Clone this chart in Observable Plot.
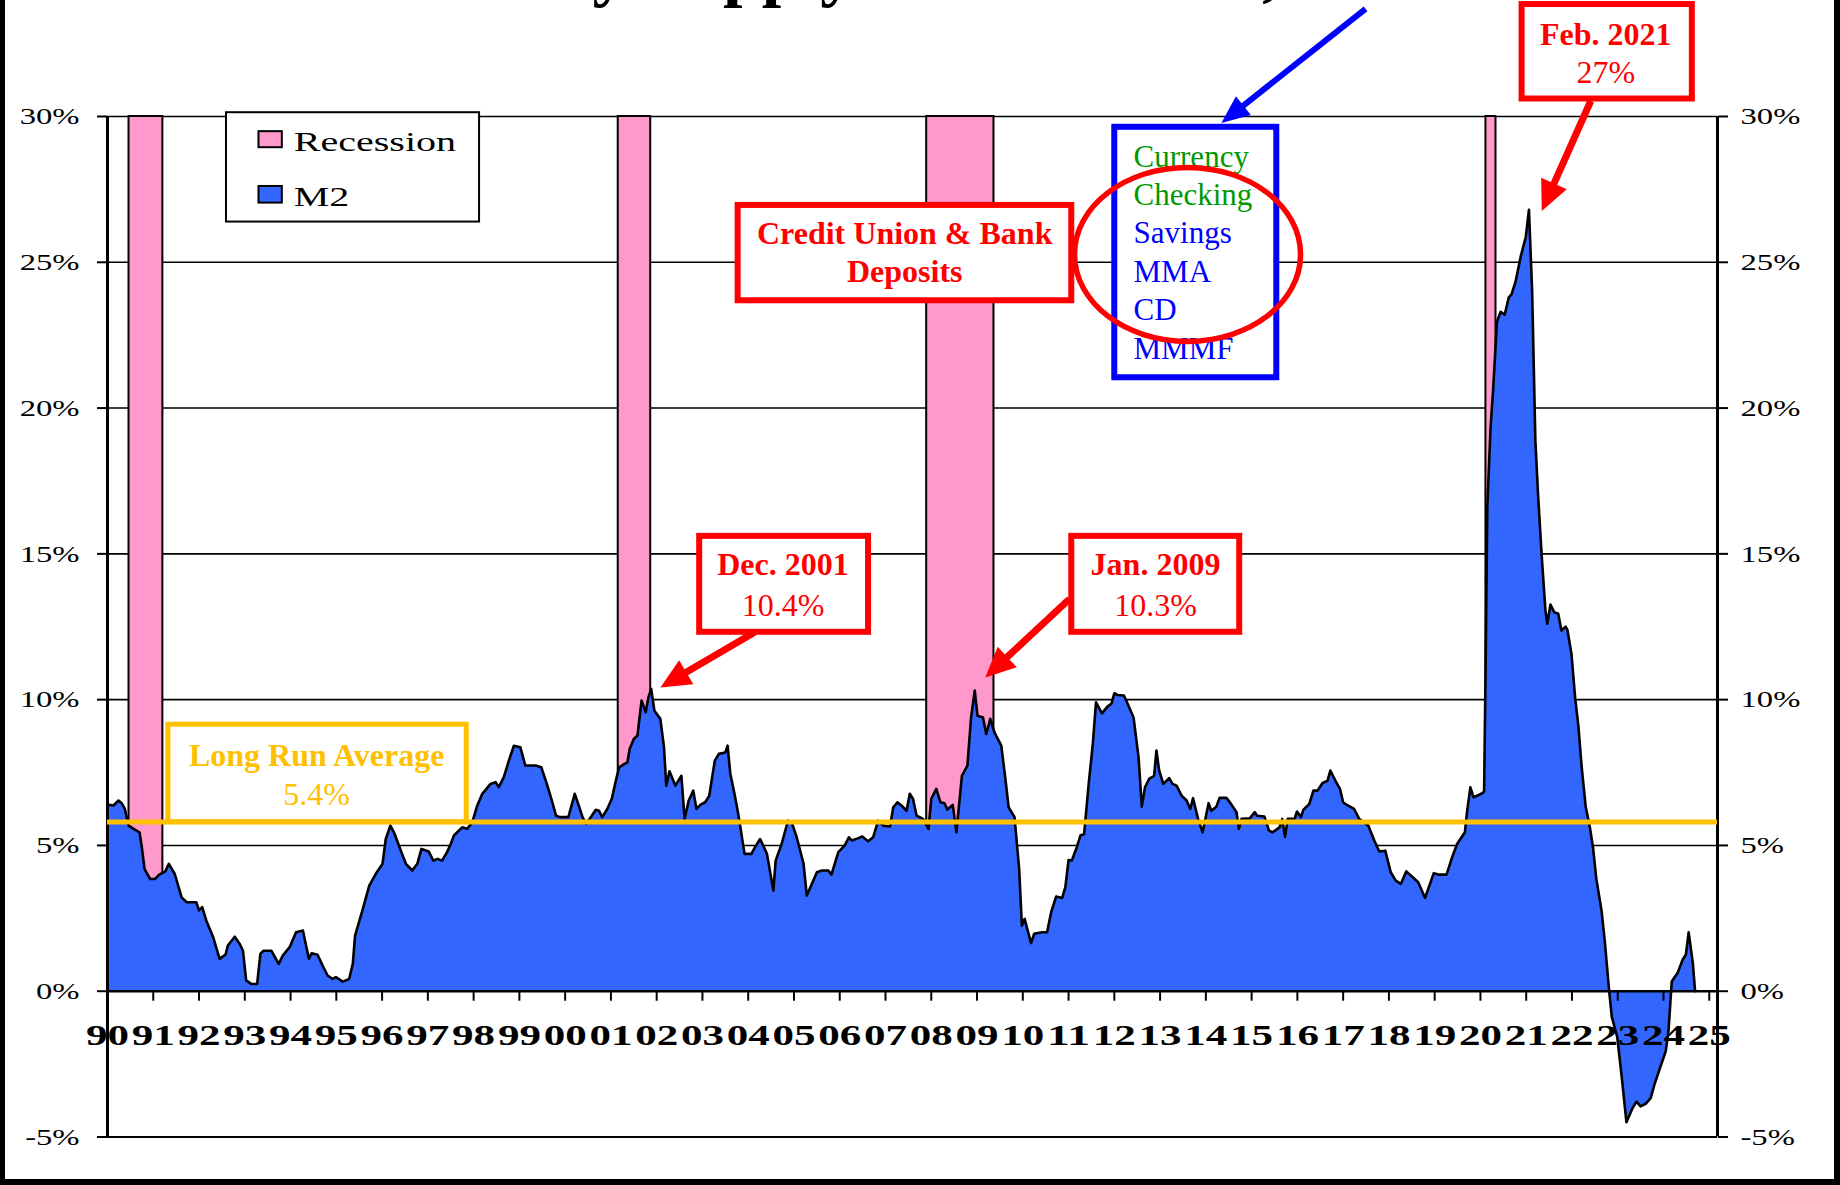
<!DOCTYPE html>
<html><head><meta charset="utf-8">
<script src="https://cdn.jsdelivr.net/npm/d3@7"></script>
<script src="https://cdn.jsdelivr.net/npm/@observablehq/plot@0.6"></script>
<style>
html,body{margin:0;padding:0;background:#fff;}
#wrap{position:relative;width:1840px;height:1185px;overflow:hidden;background:#fff;}
#wrap svg{position:absolute;left:0;top:0;}
#frame{position:absolute;left:0;top:-20px;width:1840px;height:1205px;box-sizing:border-box;border-left:5px solid #000;border-right:6px solid #000;border-bottom:6px solid #000;pointer-events:none;}
</style></head><body><div id="wrap"><div id="frame"></div></div>
<script>
// ---------------- DATA ----------------
const years = [1990.00,1990.13,1990.24,1990.31,1990.38,1990.46,1990.57,1990.70,1990.75,1990.81,1990.93,1991.04,1991.13,1991.26,1991.34,1991.47,1991.62,1991.73,1991.94,1992.00,1992.07,1992.16,1992.31,1992.45,1992.58,1992.63,1992.78,1992.89,1992.96,1993.03,1993.14,1993.27,1993.34,1993.41,1993.58,1993.74,1993.83,1993.98,1994.12,1994.27,1994.40,1994.46,1994.59,1994.70,1994.81,1994.92,1994.99,1995.14,1995.28,1995.36,1995.41,1995.57,1995.72,1995.86,1996.01,1996.08,1996.18,1996.26,1996.41,1996.52,1996.66,1996.77,1996.86,1997.02,1997.12,1997.21,1997.31,1997.42,1997.50,1997.57,1997.75,1997.86,1997.97,1998.08,1998.19,1998.37,1998.48,1998.55,1998.66,1998.77,1998.88,1999.02,1999.13,1999.35,1999.48,1999.60,1999.71,1999.80,1999.89,2000.07,2000.21,2000.31,2000.38,2000.46,2000.56,2000.67,2000.74,2000.81,2000.92,2001.02,2001.10,2001.18,2001.29,2001.36,2001.41,2001.50,2001.58,2001.67,2001.76,2001.82,2001.88,2001.95,2002.08,2002.16,2002.21,2002.28,2002.41,2002.54,2002.61,2002.70,2002.80,2002.87,2002.96,2003.06,2003.15,2003.27,2003.36,2003.50,2003.55,2003.61,2003.70,2003.77,2003.83,2003.92,2004.07,2004.15,2004.26,2004.41,2004.55,2004.60,2004.73,2004.87,2004.95,2005.06,2005.21,2005.28,2005.39,2005.50,2005.61,2005.75,2005.82,2005.90,2005.97,2006.11,2006.20,2006.26,2006.41,2006.49,2006.62,2006.73,2006.84,2006.95,2007.10,2007.17,2007.26,2007.35,2007.46,2007.53,2007.60,2007.68,2007.82,2007.94,2008.00,2008.11,2008.20,2008.29,2008.35,2008.47,2008.55,2008.67,2008.79,2008.87,2008.95,2009.01,2009.13,2009.20,2009.29,2009.38,2009.53,2009.62,2009.69,2009.82,2009.92,2009.98,2010.04,2010.18,2010.25,2010.42,2010.53,2010.62,2010.73,2010.86,2010.93,2011.00,2011.07,2011.18,2011.26,2011.34,2011.44,2011.53,2011.60,2011.73,2011.85,2011.94,2012.00,2012.07,2012.21,2012.31,2012.42,2012.53,2012.60,2012.67,2012.76,2012.87,2012.92,2012.98,2013.07,2013.20,2013.27,2013.36,2013.47,2013.58,2013.66,2013.72,2013.83,2013.93,2014.06,2014.12,2014.23,2014.30,2014.45,2014.56,2014.67,2014.72,2014.78,2014.96,2015.07,2015.12,2015.28,2015.38,2015.46,2015.61,2015.67,2015.73,2015.79,2015.94,2015.99,2016.08,2016.13,2016.26,2016.35,2016.44,2016.55,2016.66,2016.72,2016.83,2016.93,2017.00,2017.10,2017.24,2017.35,2017.55,2017.68,2017.79,2017.92,2018.04,2018.15,2018.26,2018.38,2018.48,2018.64,2018.79,2018.98,2019.08,2019.26,2019.38,2019.49,2019.66,2019.71,2019.78,2019.85,2020.04,2020.08,2020.11,2020.15,2020.22,2020.28,2020.33,2020.36,2020.44,2020.53,2020.62,2020.68,2020.77,2020.88,2020.99,2021.06,2021.13,2021.20,2021.26,2021.34,2021.42,2021.46,2021.53,2021.61,2021.70,2021.77,2021.86,2021.90,2021.99,2022.07,2022.14,2022.21,2022.30,2022.39,2022.46,2022.53,2022.65,2022.72,2022.81,2022.87,2022.99,2023.09,2023.19,2023.32,2023.41,2023.50,2023.61,2023.72,2023.80,2023.91,2024.05,2024.11,2024.18,2024.31,2024.42,2024.49,2024.55,2024.64,2024.69];
const m2 = [6.40,6.37,6.54,6.45,6.25,5.68,5.57,5.45,4.94,4.19,3.85,3.85,4.00,4.10,4.37,4.02,3.22,3.05,3.05,2.77,2.88,2.42,1.85,1.11,1.26,1.57,1.87,1.62,1.39,0.37,0.25,0.25,1.28,1.39,1.39,0.94,1.22,1.51,2.02,2.08,1.11,1.30,1.25,0.88,0.54,0.42,0.48,0.33,0.42,0.94,1.91,2.77,3.62,4.02,4.37,5.22,5.68,5.45,4.82,4.37,4.14,4.37,4.88,4.79,4.48,4.54,4.48,4.77,5.05,5.34,5.62,5.57,5.79,6.37,6.77,7.11,7.17,7.00,7.34,7.91,8.42,8.37,7.74,7.74,7.68,7.11,6.54,6.02,5.97,5.97,6.77,6.31,5.97,5.74,5.97,6.22,6.19,5.97,6.25,6.60,7.17,7.68,7.79,7.85,8.31,8.65,8.77,9.97,9.57,10.08,10.37,9.62,9.34,8.37,7.05,7.54,7.05,7.39,5.91,6.54,6.88,6.25,6.40,6.48,6.71,7.91,8.14,8.19,8.42,7.45,6.77,6.19,5.62,4.71,4.71,4.94,5.22,4.71,3.45,4.48,5.05,5.85,5.79,5.28,4.37,3.28,3.68,4.08,4.14,4.14,4.00,4.42,4.77,5.00,5.28,5.17,5.25,5.31,5.14,5.28,5.85,5.68,5.65,6.31,6.48,6.37,6.19,6.77,6.60,6.02,5.91,5.57,6.60,6.94,6.48,6.45,6.23,6.39,5.45,7.39,7.74,9.39,10.31,9.45,9.39,8.82,9.34,8.88,8.42,7.28,6.31,5.97,4.20,2.25,2.48,1.65,1.97,2.02,2.02,2.71,3.25,3.20,3.57,4.50,4.48,4.94,5.34,5.39,7.11,8.48,9.91,9.53,9.76,9.87,10.22,10.16,10.14,9.79,9.39,8.02,6.33,6.99,7.28,7.39,8.25,7.57,7.11,7.31,7.11,7.05,6.71,6.54,6.25,6.62,5.91,5.45,6.45,6.19,6.33,6.63,6.63,6.40,6.14,5.57,5.91,5.93,6.14,6.02,5.99,5.51,5.45,5.62,5.91,5.30,5.91,5.91,6.16,5.97,6.22,6.42,6.88,6.88,7.14,7.22,7.57,7.22,6.94,6.48,6.37,6.25,5.91,5.68,5.17,4.79,4.82,4.08,3.79,3.68,4.11,3.97,3.74,3.20,4.05,4.00,4.00,4.59,5.05,5.45,6.19,6.99,6.65,6.79,6.85,10.7,16.6,19.3,20.7,22.1,22.95,23.3,23.2,23.8,23.9,24.35,25.2,25.86,26.8,24.0,18.9,17.0,14.9,13.07,12.6,13.26,13.0,12.95,12.37,12.5,12.4,11.56,10.05,9.1,7.72,6.33,5.63,4.93,3.88,2.72,1.67,0.05,-0.88,-1.58,-2.98,-4.49,-4.02,-3.79,-3.95,-3.86,-3.67,-3.21,-2.70,-2.05,-1.35,0.33,0.63,1.09,1.26,2.02,0.98,0];

const recessionStart = [1990.47, 2001.16, 2007.90, 2020.12];
const recessionEnd   = [1991.21, 2001.87, 2009.37, 2020.34];

const longRunAverageLine = 5.8;
const yTicks = [-5, 0, 5, 10, 15, 20, 25, 30];
const xTickYears = d3.range(1990, 2026);
const xTickLabels = ["90","91","92","93","94","95","96","97","98","99","00","01","02","03","04","05","06","07","08","09","10","11","12","13","14","15","16","17","18","19","20","21","22","23","24","25"];
const xMax = 2025.18;

const components = ["Currency","Checking","Savings","MMA","CD","MMMF"];
const componentColors = ["#009900","#009900","#0000FF","#0000FF","#0000FF","#0000FF"];
const componentY = [28.62, 27.30, 25.99, 24.67, 23.37, 22.03];

const titleText = "Money Supply Growth Rate, Year-over-Year";

// ---------------- BUILD ----------------
const series = years.map((x, i) => ({x, y: m2[i]}));
const recessions = recessionStart.map((s, i) => ({s, e: recessionEnd[i]}));

const SERIF = "Liberation Serif, Times New Roman, serif";
const RED = "#FF0000", ORANGE = "#FFC000", BLUE = "#0000FF";

const ellipseSymbol = {draw(ctx) {
  const rx = 113, ry = 87, k = 0.5523;
  ctx.moveTo(rx, 0);
  ctx.bezierCurveTo(rx, k*ry, k*rx, ry, 0, ry);
  ctx.bezierCurveTo(-k*rx, ry, -rx, k*ry, -rx, 0);
  ctx.bezierCurveTo(-rx, -k*ry, -k*rx, -ry, 0, -ry);
  ctx.bezierCurveTo(k*rx, -ry, rx, -k*ry, rx, 0);
  ctx.closePath();
}};

function box(x1, x2, y1, y2, color, w) {
  return Plot.rect([0], {x1: () => x1, x2: () => x2, y1: () => y1, y2: () => y2, fill: "white", stroke: color, strokeWidth: w});
}
function label(items, opts) {
  return Plot.text(items, {x: "x", y: "y", text: "t", lineAnchor: "middle", fontFamily: SERIF, ...opts});
}

const arrowsRed = [
  {x1: 2004.14, y1: 12.31, x2: 2002.08, y2: 10.42},
  {x1: 2011.02, y1: 13.45, x2: 2009.18, y2: 10.76},
  {x1: 2022.41, y1: 30.53, x2: 2021.34, y2: 26.76}
];
const arrowsBlue = [{x1: 2017.49, y1: 33.69, x2: 2014.34, y2: 29.78}];

const chart = Plot.plot({
  width: 1840, height: 1185,
  marginLeft: 107, marginRight: 123, marginTop: 116, marginBottom: 48.5,
  x: {domain: [1990, xMax], axis: null},
  y: {domain: [-5, 30], axis: null},
  style: {fontFamily: SERIF, background: "transparent", overflow: "visible", color: "black"},
  marks: [
    Plot.ruleY(yTicks.filter(v => v !== 0), {stroke: "black", strokeWidth: 1.6}),
    Plot.rect(recessions, {x1: "s", x2: "e", y1: 0, y2: 30, fill: "#FF99CC", stroke: "black", strokeWidth: 2}),
    Plot.areaY(series, {x: "x", y: "y", fill: "#3366FF"}),
    Plot.lineY(series, {x: "x", y: "y", stroke: "black", strokeWidth: 2.6, strokeLinejoin: "round"}),
    Plot.ruleY([0], {stroke: "black", strokeWidth: 2.6}),
    Plot.ruleY([-5], {stroke: "black", strokeWidth: 2.2}),
    Plot.ruleX([1990, xMax], {y1: -5, y2: 30, stroke: "black", strokeWidth: 3}),
    Plot.ruleX(xTickYears, {x: d => d, y1: 0, y2: 0, insetBottom: -10, stroke: "black", strokeWidth: 2}),
    Plot.text(xTickYears, {x: d => d, y: 0, text: (d, i) => xTickLabels[i], dy: 44, fontSize: 30, fontWeight: "bold", fontFamily: SERIF, lineAnchor: "middle"}),
    Plot.axisY({anchor: "left", ticks: yTicks, tickFormat: d => d + "%", tickSize: 10, tickPadding: 18, fontSize: 24, fontFamily: SERIF, strokeWidth: 2}),
    Plot.axisY({anchor: "right", ticks: yTicks, tickFormat: d => d + "%", tickSize: 10, tickPadding: 13, fontSize: 24, fontFamily: SERIF, strokeWidth: 2}),
    Plot.ruleY([longRunAverageLine], {stroke: ORANGE, strokeWidth: 5}),

    // legend
    box(1992.60, 1998.13, 30.13, 26.38, "black", 2),
    Plot.rect([0], {x1: () => 1993.31, x2: () => 1993.82, y1: () => 29.48, y2: () => 28.93, fill: "#FF99CC", stroke: "black", strokeWidth: 2}),
    Plot.rect([0], {x1: () => 1993.31, x2: () => 1993.82, y1: () => 27.60, y2: () => 27.03, fill: "#3366FF", stroke: "black", strokeWidth: 2}),
    label([{x: 1994.07, y: 29.12, t: "Recession"}, {x: 1994.07, y: 27.25, t: "M2"}], {textAnchor: "start", fontSize: 28, fill: "black"}),

    // Long run average
    box(1991.33, 1997.85, 9.14, longRunAverageLine, ORANGE, 5),
    label([{x: 1994.57, y: 8.06, t: "Long Run Average"}], {fontSize: 32, fontWeight: "bold", fill: ORANGE}),
    label([{x: 1994.57, y: 6.75, t: "5.4%"}], {fontSize: 32, fill: ORANGE}),

    // Credit union box
    box(2003.78, 2011.07, 26.95, 23.68, RED, 6),
    label([{x: 2007.42, y: 25.99, t: "Credit Union & Bank"}, {x: 2007.42, y: 24.68, t: "Deposits"}], {fontSize: 32, fontWeight: "bold", fill: RED}),

    // M2 components box
    box(2012.01, 2015.55, 29.63, 21.04, BLUE, 6),
    ...components.map((c, i) => label([{x: 2012.42, y: componentY[i], t: c}], {textAnchor: "start", fontSize: 31, fill: componentColors[i]})),
    Plot.dot([0], {x: () => 2013.60, y: () => 25.27, symbol: ellipseSymbol, fill: "none", stroke: RED, strokeWidth: 5.5}),

    // Dec 2001
    box(2002.94, 2006.63, 15.60, 12.31, RED, 6),
    label([{x: 2004.76, y: 14.62, t: "Dec. 2001"}], {fontSize: 32, fontWeight: "bold", fill: RED}),
    label([{x: 2004.76, y: 13.22, t: "10.4%"}], {fontSize: 32, fill: RED}),
    // Jan 2009
    box(2011.07, 2014.74, 15.60, 12.31, RED, 6),
    label([{x: 2012.90, y: 14.62, t: "Jan. 2009"}], {fontSize: 32, fontWeight: "bold", fill: RED}),
    label([{x: 2012.90, y: 13.22, t: "10.3%"}], {fontSize: 32, fill: RED}),
    // Feb 2021
    box(2020.91, 2024.63, 33.84, 30.60, RED, 6),
    label([{x: 2022.74, y: 32.81, t: "Feb. 2021"}], {fontSize: 32, fontWeight: "bold", fill: RED}),
    label([{x: 2022.74, y: 31.50, t: "27%"}], {fontSize: 32, fill: RED}),

    // arrows (shafts); heads added below
    Plot.link(arrowsRed, {x1: "x1", y1: "y1", x2: "x2", y2: "y2", stroke: RED, strokeWidth: 7}),
    Plot.link(arrowsBlue, {x1: "x1", y1: "y1", x2: "x2", y2: "y2", stroke: BLUE, strokeWidth: 6}),

    // title, clipped by the top edge of the picture (only its lowest part shows)
    label([{x: 1996.86, y: 34.22, t: titleText}], {fontSize: 70, fontWeight: "bold", fill: "black", textAnchor: "start", lineAnchor: "bottom"})
  ]
});

document.getElementById("wrap").prepend(chart);

// stretch axis / legend text horizontally like the original
d3.select(chart).selectAll("text").each(function() {
  const t = this.textContent;
  const g = this.parentNode;
  let w = null;
  if (xTickLabels.includes(t) && g.getAttribute("font-weight") === "bold") w = 43;
  else if (t === "Recession" || t === "M2") w = this.getComputedTextLength() * 1.43;
  else if (/^-?\d+%$/.test(t) && g.getAttribute("font-size") === "24") w = this.getComputedTextLength() * 1.36;
  if (w) { this.setAttribute("textLength", w); this.setAttribute("lengthAdjust", "spacingAndGlyphs"); }
});

// filled arrow heads
const arrowGroups = [];
d3.select(chart).selectAll("g").each(function() {
  const st = this.getAttribute("stroke"), sw = this.getAttribute("stroke-width");
  if (st === RED && sw === "7") arrowGroups.push([this, RED, 30, 28]);
  if (st === BLUE && sw === "6" && this.querySelector("path")) arrowGroups.push([this, BLUE, 28, 24]);
});
arrowGroups.forEach(([g, color, L, W]) => {
  Array.from(g.querySelectorAll("path")).forEach(p => {
    const n = (p.getAttribute("d").match(/-?[\d.]+(e-?\d+)?/g) || []).map(Number);
    if (n.length < 4) return;
    const x1 = n[0], y1 = n[1], x2 = n[n.length - 2], y2 = n[n.length - 1];
    const len = Math.hypot(x2 - x1, y2 - y1), ux = (x2 - x1) / len, uy = (y2 - y1) / len;
    const bx = x2 - ux * L, by = y2 - uy * L;
    p.setAttribute("d", `M${x1},${y1}L${bx + ux * 2},${by + uy * 2}`);
    const head = document.createElementNS("http://www.w3.org/2000/svg", "path");
    head.setAttribute("d", `M${x2},${y2}L${bx - uy * W / 2},${by + ux * W / 2}L${bx + uy * W / 2},${by - ux * W / 2}Z`);
    head.setAttribute("fill", color);
    head.setAttribute("stroke", "none");
    g.appendChild(head);
  });
});
</script></body></html>
